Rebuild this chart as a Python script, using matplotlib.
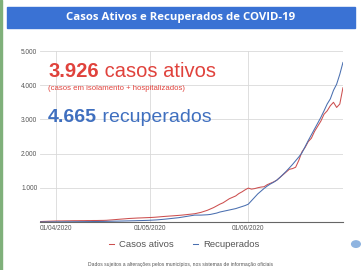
import matplotlib
matplotlib.use("Agg")
import matplotlib.pyplot as plt
import numpy as np
import pandas as pd
from matplotlib.patches import Rectangle, Circle

plt.rcParams['font.family'] = ['Liberation Sans', 'DejaVu Sans']

# daily values, 27/03/2020 to 01/07/2020
dates = pd.date_range("2020-03-27", "2020-07-01", freq="D")
ativos = [10, 15, 18, 22, 25,
          28, 30, 30, 32, 33,
          35, 36, 36, 38, 38,
          40, 40, 42, 42, 44,
          45, 48, 55, 62, 70,
          78, 85, 92, 100, 105,
          110, 115, 118, 122, 126,
          130, 135, 142, 150, 158,
          165, 172, 178, 185, 192,
          200, 210, 220, 230, 240,
          260, 280, 310, 340, 380,
          420, 470, 520, 560, 620,
          680, 720, 760, 830, 880,
          940, 990, 960, 975, 1000,
          1020, 1030, 1090, 1130, 1170,
          1220, 1300, 1380, 1460, 1540,
          1560, 1600, 1800, 2050, 2180,
          2350, 2450, 2650, 2800, 2950,
          3150, 3250, 3400, 3500, 3350,
          3450, 3926]
recuperados = [0, 0, 1, 1, 2,
               2, 3, 3, 4, 5,
               5, 6, 7, 8, 9,
               10, 11, 12, 13, 14,
               15, 17, 19, 21, 23,
               25, 27, 29, 31, 33,
               35, 38, 40, 43, 46,
               50, 55, 60, 68, 76,
               85, 95, 105, 115, 125,
               140, 155, 170, 185, 200,
               200, 200, 205, 210, 220,
               240, 260, 290, 310, 330,
               350, 370, 390, 420, 450,
               480, 520, 620, 720, 820,
               900, 980, 1050, 1110, 1160,
               1220, 1300, 1390, 1480, 1580,
               1680, 1790, 1900, 2020, 2200,
               2380, 2550, 2720, 2890, 3060,
               3250, 3450, 3600, 3850, 4030,
               4320, 4665]

y_ticks = [1000, 2000, 3000, 4000, 5000]
y_labels = ["1.000", "2.000", "3.000", "4.000", "5.000"]
x_ticks = pd.to_datetime(["2020-04-01", "2020-05-01", "2020-06-01"])
x_labels = ["01/04/2020", "01/05/2020", "01/06/2020"]

titulo = "Casos Ativos e Recuperados de COVID-19"
total_ativos = "3.926"
total_rec = "4.665"
rodape = "Dados sujeitos a alterações pelos municípios, nos sistemas de informação oficiais"

red = "#cc4f4f"
blue = "#4a6fb0"

fig = plt.figure(figsize=(3.61, 2.70), dpi=100)
fig.patch.set_facecolor("white")

# green edge on the left
fig.patches.append(Rectangle((0, 0), 0.006, 1, transform=fig.transFigure,
                             color="#7fb07a", zorder=0))
# title bar
fig.patches.append(Rectangle((0.019, 0.896), 0.964, 0.078, transform=fig.transFigure,
                             color="#3a72d4", zorder=1))
fig.text(0.5, 0.935, titulo, color="white", fontsize=8.2, fontweight="bold",
         ha="center", va="center", family=["Open Sans", "DejaVu Sans"])

ax = fig.add_axes([0.111, 0.178, 0.839, 0.633])
ax.plot(dates, ativos, color=red, lw=0.75)
ax.plot(dates, recuperados, color=blue, lw=0.75)
ax.set_ylim(0, 5000)
ax.set_xlim(dates[0], dates[-1])
ax.set_yticks(y_ticks)
ax.set_yticklabels(y_labels)
ax.set_xticks(x_ticks)
ax.set_xticklabels(x_labels)
ax.tick_params(axis="both", length=0, labelsize=4.7, labelcolor="#555555", pad=2)
ax.grid(True, color="#d9d9d9", lw=0.6)
ax.set_axisbelow(True)
for s in ["top", "right", "left"]:
    ax.spines[s].set_visible(False)
ax.spines["bottom"].set_color("#666666")
ax.spines["bottom"].set_linewidth(0.8)

# big annotations
t1 = fig.text(0.133, 0.737, total_ativos, color="#e0423c", fontsize=14.5,
              fontweight="bold", va="center", ha="left")
ax.annotate(" casos ativos", xy=(1, 0.5), xycoords=t1, va="center", ha="left",
            color="#e0423c", fontsize=14.5)
fig.text(0.133, 0.674, "(casos em isolamento + hospitalizados)", color="#e0423c",
         fontsize=5.6, va="center", ha="left")
t2 = fig.text(0.133, 0.563, total_rec, color="#3f6fbf", fontsize=14,
              fontweight="bold", va="center", ha="left")
ax.annotate(" recuperados", xy=(1, 0.5), xycoords=t2, va="center", ha="left",
            color="#3f6fbf", fontsize=14)

# legend
fig.legend(["Casos ativos", "Recuperados"], loc="center",
           bbox_to_anchor=(0.51, 0.093), ncol=2, frameon=False,
           fontsize=6.8, handlelength=0.6, columnspacing=2.0,
           handletextpad=0.5, labelcolor="#555555")

fig.text(0.5, 0.019, rodape, fontsize=3.6, color="#555555", ha="center", va="center")

# small logo circle
fig.patches.append(Circle((0.986, 0.096), 0.012, transform=fig.transFigure,
                          color="#8fb4e0", zorder=2))

fig.savefig("out.png", dpi=100)
